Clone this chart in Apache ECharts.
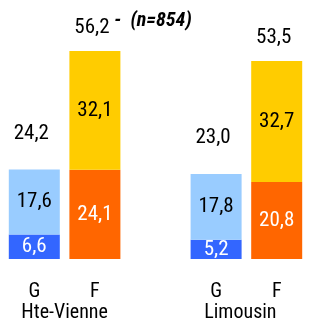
<!DOCTYPE html>
<html>
<head>
<meta charset="utf-8">
<script src="https://cdn.jsdelivr.net/npm/echarts@6/dist/echarts.min.js"></script>
<style>html,body{margin:0;padding:0;background:#fff}#c{width:316px;height:326px}</style>
</head>
<body>
<div id="c"></div>
<script>
// ---- data ----
var barLabels = ['G', 'F', '', 'G', 'F'];
var groupLabels = ['', 'Hte-Vienne', '', '', 'Limousin', ''];
var bottomValues = [6.6, 24.1, null, 5.2, 20.8];
var topValues = [17.6, 32.1, null, 17.8, 32.7];
var totalValues = [24.2, 56.2, null, 23.0, 53.5];
var titleText = '-  (n=854)';

var FONT = '"Roboto Condensed", "DejaVu Sans Condensed", "Liberation Sans", sans-serif';
var NUM_SIZE = 21;
var bottomColors = {G: '#3366FF', F: '#FF6600'};
var topColors = {G: '#99CCFF', F: '#FFCC00'};
var topText = {G: '#000', F: '#000'};
var bottomText = {G: '#fff', F: '#fff'};

function fmt(v) { return v.toFixed(1).replace('.', ','); }

function makeData(vals, colors, textColors) {
  return vals.map(function (v, i) {
    var k = barLabels[i];
    if (v == null) return null;
    return {value: v, itemStyle: {color: colors[k]}, label: {color: textColors[k]}};
  });
}

var totalData = totalValues.map(function (v, i) {
  if (v == null) return null;
  var k = barLabels[i];
  return {value: v, label: {offset: [-3, k === 'G' ? -36 : -23]}};
});

var chart = echarts.init(document.getElementById('c'));
chart.setOption({
  animation: false,
  title: {
    text: titleText, left: 148, top: 6, textAlign: 'center',
    textStyle: {fontFamily: FONT, fontSize: 20, fontWeight: 'bold', fontStyle: 'italic', color: '#000'}
  },
  grid: {left: 4, right: 9, top: 0, bottom: 67},
  xAxis: [{
    type: 'category', data: barLabels,
    axisLine: {show: false}, axisTick: {show: false},
    axisLabel: {margin: 23, fontFamily: FONT, fontSize: 20, color: '#000'}
  }, {
    type: 'category', data: groupLabels, boundaryGap: false, position: 'bottom',
    axisLine: {show: false}, axisTick: {show: false},
    axisLabel: {margin: 44, interval: 0, fontFamily: FONT, fontSize: 20, color: '#000',
      formatter: function (v, i) { return i === 4 ? '{s|' + v + '}' : v; },
      rich: {s: {fontFamily: FONT, fontSize: 20, color: '#000', padding: [0, 12, 0, 0]}}}
  }],
  yAxis: {type: 'value', min: 0, max: 70, show: false},
  series: [{
    type: 'bar', stack: 's', barWidth: 51,
    data: makeData(bottomValues, bottomColors, bottomText),
    label: {show: true, position: 'inside', fontFamily: FONT, fontSize: NUM_SIZE, formatter: function (p) { return fmt(p.value); }}
  }, {
    type: 'bar', stack: 's', barWidth: 51,
    data: makeData(topValues, topColors, topText),
    label: {show: true, position: 'inside', fontFamily: FONT, fontSize: NUM_SIZE, formatter: function (p) { return fmt(p.value); }}
  }, {
    type: 'scatter', symbolSize: 0, data: totalData, itemStyle: {opacity: 1},
    label: {show: true, position: 'inside', color: '#000', fontFamily: FONT, fontSize: NUM_SIZE, formatter: function (p) { return fmt(p.value); }}
  }]
});
</script>
</body>
</html>
